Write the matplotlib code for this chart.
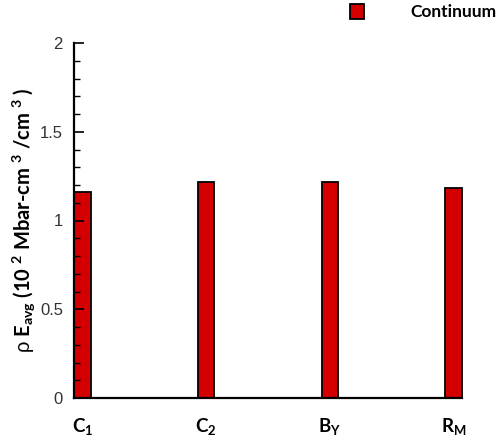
import matplotlib
matplotlib.use('Agg')
import matplotlib.pyplot as plt
from matplotlib.ticker import MultipleLocator

# mathtext: digits/bold in Lato bold, greek in a plain sans
plt.rcParams['mathtext.fontset'] = 'custom'
plt.rcParams['mathtext.rm'] = 'Lato:bold'
plt.rcParams['mathtext.bf'] = 'Lato:bold'
plt.rcParams['mathtext.it'] = 'Liberation Sans'

models = [r'C$_{\mathbf{1}}$', r'C$_{\mathbf{2}}$', r'B$_{\mathbf{Y}}$', r'R$_{\mathbf{M}}$']
energy = [1.16, 1.215, 1.215, 1.185]
series_name = 'Continuum'

bar_w = 0.134
xpos = list(range(len(models)))

fig = plt.figure(figsize=(4.98, 4.42), dpi=100)
ax = fig.add_axes([74 / 498, 44 / 442, 388 / 498, 355 / 442])

bars = ax.bar(xpos, energy, width=bar_w, align='edge', color='#d40000',
              edgecolor='black', linewidth=1.3, label=series_name, clip_on=False)

ax.set_xlim(0, xpos[-1] + bar_w)
ax.set_ylim(0, 2)
ax.set_xticks([p + bar_w / 2 for p in xpos])
ax.set_xticklabels(models, fontfamily='Lato', fontweight='bold', fontsize=13.5)
ax.tick_params(axis='x', length=0, pad=13)

ax.yaxis.set_major_locator(MultipleLocator(0.5))
ax.yaxis.set_minor_locator(MultipleLocator(0.1))
ax.set_yticks([0, 0.5, 1, 1.5, 2])
ax.set_yticklabels(['0', '0.5', '1', '1.5', '2'])
ax.tick_params(axis='y', which='major', direction='in', length=7, width=1.2,
               pad=8, labelsize=12, labelcolor='#333333')
ax.tick_params(axis='y', which='minor', direction='in', length=4, width=1.0)
for lab in ax.get_yticklabels():
    lab.set_fontfamily('Liberation Sans')

for s in ['top', 'right']:
    ax.spines[s].set_visible(False)
for s in ['left', 'bottom']:
    ax.spines[s].set_linewidth(1.6)

ax.set_ylabel(r'$\rho$ E$_{\mathbf{avg}}$ (10 ${}^{2}$ Mbar-cm ${}^{3}$ /cm ${}^{3}$ )',
              fontfamily='Lato', fontweight='bold', fontsize=14.5, labelpad=2)

fig.legend(handles=[bars], loc='upper left', bbox_to_anchor=(350 / 498, 1 - 4 / 442),
           frameon=False, borderpad=0, borderaxespad=0, handlelength=0.8,
           handleheight=0.95, handletextpad=2.7,
           prop={'family': 'Lato', 'weight': 'bold', 'size': 12.5})

fig.savefig('out.png', dpi=100)
